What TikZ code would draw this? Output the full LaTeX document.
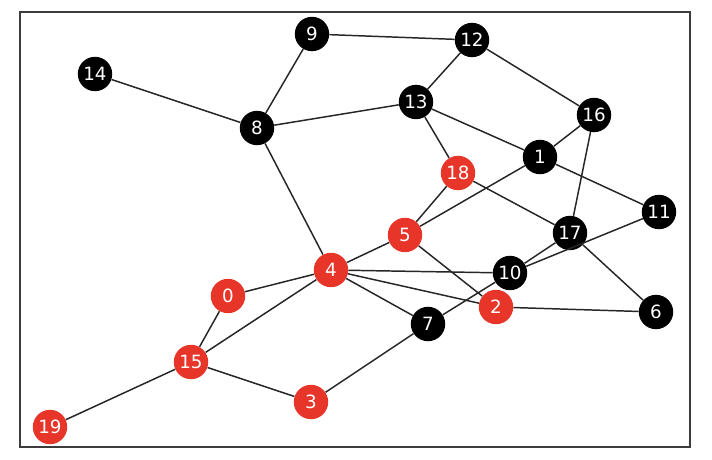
\documentclass[tikz,border=0pt]{standalone}
\usepackage{fontspec}
\setmainfont{DejaVu Sans}
\definecolor{nodered}{RGB}{232,53,42}
\definecolor{framegray}{RGB}{60,60,60}

\begin{document}
\begin{tikzpicture}[
      x=0.025cm, y=-0.025cm,
      vertex/.style={
        circle,
        fill=black,
        minimum size=0.86cm,
        inner sep=0pt,
        text=white,
        font=\fontsize{13}{15}\selectfont
      },
      hot/.style={
        vertex,
        fill=nodered
      },
      link/.style={
        draw=black!85, line width=1.05pt
      }
    ]
      \useasboundingbox (0,0) rectangle (712,460);
      \draw[framegray, line width=0.8pt] (20,12) rectangle (690,447);
      \node[vertex] (n9) at (312,34) {9};
      \node[vertex] (n12) at (472,40) {12};
      \node[vertex] (n14) at (95,74) {14};
      \node[vertex] (n13) at (416,102) {13};
      \node[vertex] (n16) at (594,115) {16};
      \node[vertex] (n8) at (257,128) {8};
      \node[vertex] (n1) at (540,157) {1};
      \node[hot] (n18) at (458,173) {18};
      \node[vertex] (n11) at (659,212) {11};
      \node[hot] (n5) at (405,235) {5};
      \node[vertex] (n17) at (570,233) {17};
      \node[hot] (n4) at (331,270) {4};
      \node[vertex] (n10) at (510,273) {10};
      \node[hot] (n0) at (228,296) {0};
      \node[hot] (n2) at (496,307) {2};
      \node[vertex] (n6) at (656,312) {6};
      \node[vertex] (n7) at (428,324) {7};
      \node[hot] (n15) at (191,362) {15};
      \node[hot] (n3) at (311,402) {3};
      \node[hot] (n19) at (50,427) {19};
      \foreach \a/\b in {9/12, 9/8, 14/8, 8/13, 8/4, 12/13, 12/16, 13/1, 13/18,
                         16/1, 16/17, 1/5, 1/11, 18/5, 18/17, 17/6, 17/10, 11/10,
                         10/7, 10/4, 5/4, 5/2, 4/2, 4/7, 4/0, 4/15, 2/6, 0/15,
                         15/19, 15/3, 3/7}
        \draw[link] (n\a) -- (n\b);
    \end{tikzpicture}
\end{document}
